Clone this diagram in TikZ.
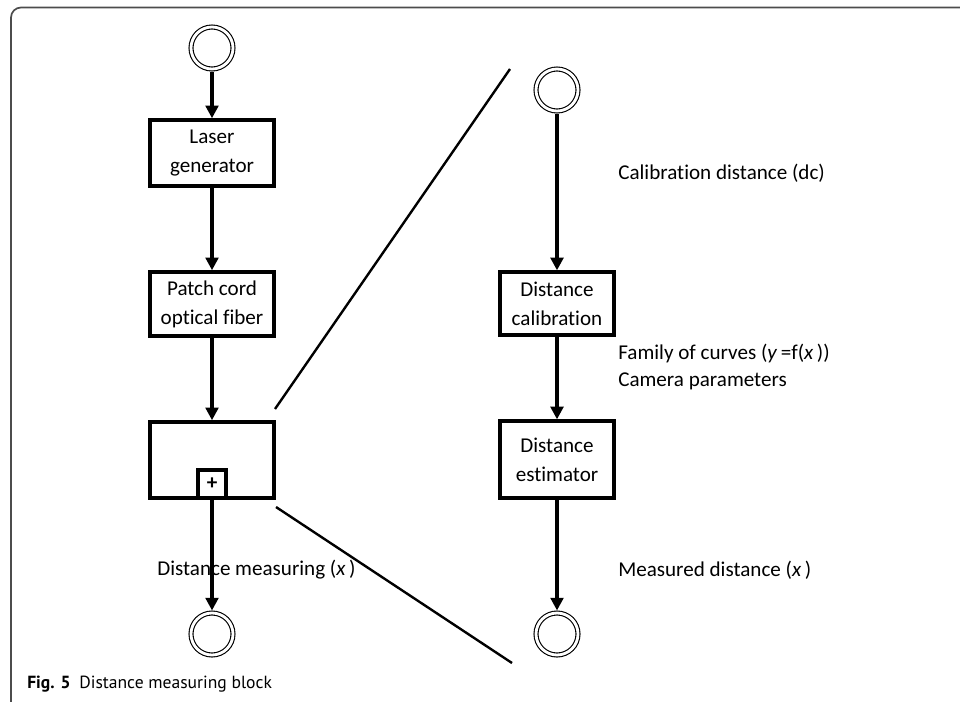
\documentclass[tikz,border=0pt]{standalone}
\usepackage{fontspec}
\setmainfont{Carlito}[Ligatures=NoCommon]
\newfontfamily\capfont{PT Sans}
\usetikzlibrary{arrows.meta,positioning}

\tikzset{
	blk/.style={draw,line width=2.5pt,minimum width=3.1cm,minimum height=1.6cm,align=center,inner sep=0pt},
	term/.style={circle,draw,double,double distance=2pt,line width=0.8pt,minimum size=1.05cm,inner sep=0pt,outer sep=1.8pt},
	flow/.style={-{Triangle[length=9pt,width=9pt]},line width=2.3pt},
	lbl/.style={anchor=west,inner sep=0pt},
}

\begin{document}
\begin{tikzpicture}[font=\fontsize{15}{20.5}\selectfont]
	\useasboundingbox (0,0) rectangle (24,-17.525);
	\draw[gray!60!black,line width=1.2pt,rounded corners=0.25cm] (0.275,-17.7)--(0.275,-0.1875)--(24.2,-0.1875);	%frame

	%LEFT CHAIN
	\node[term] (inL) at (5.3,-1.2) {};
	\node[blk,minimum height=1.65cm] (laser) at (5.3,-3.825) {Laser\\generator};
	\node[blk] (patch) at (5.3,-7.6) {Patch cord\\optical fiber};
	\node[blk,minimum height=1.9cm] (meas) at (5.3,-11.5) {};
	\node[draw,line width=2.5pt,minimum size=0.7cm,inner sep=0pt,anchor=south] (plus) at (meas.south) {\bfseries +};
	\node[term] (outL) at (5.3,-15.85) {};

	\draw[flow] (inL)--(laser);
	\draw[flow] (laser)--(patch);
	\draw[flow] (patch)--(meas);
	\draw[flow] (plus)--(outL);

	%RIGHT CHAIN
	\node[term] (inR) at (13.925,-2.25) {};
	\node[blk,minimum width=2.85cm,minimum height=1.575cm] (calib) at (13.925,-7.59) {Distance\\calibration};
	\node[blk,minimum width=2.85cm,minimum height=1.925cm] (estim) at (13.925,-11.49) {Distance\\estimator};
	\node[term] (outR) at (13.925,-15.85) {};

	\draw[flow] (inR)--(calib);
	\draw[flow] (calib)--(estim);
	\draw[flow] (estim)--(outR);

	%zoom lines
	\draw[line width=1.7pt] (6.875,-10.225)--(12.75,-1.725);
	\draw[line width=1.7pt] (6.9,-12.675)--(12.8,-16.575);

	%LABELS
	\node[lbl] (dml) at (3.925,-14.25) {Distance measuring (\textit{x}\,)};
	\node[lbl] (dcl) at (15.45,-4.325) {Calibration distance (dc)};
	\node[lbl] (fam) at (15.45,-8.825) {Family of curves (\textit{y}\,=f(\textit{x}\,))};
	\node[lbl] (cam) at (15.45,-9.525) {Camera parameters};
	\node[lbl] (mdl) at (15.45,-14.25) {Measured distance (\textit{x}\,)};
	\node[lbl,font=\capfont\fontsize{12.5}{15}\selectfont] (cap) at (0.675,-17.1) {\textbf{Fig. 5}\hspace{0.5em}Distance measuring block};
\end{tikzpicture}
\end{document}
